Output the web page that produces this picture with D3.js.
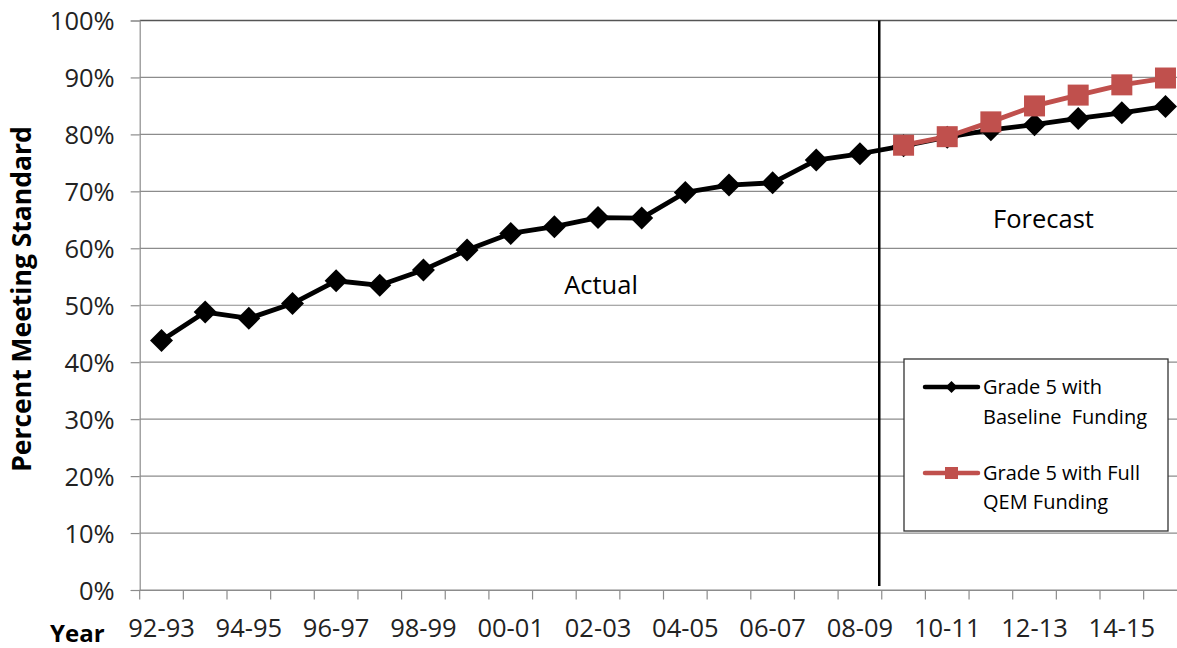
<!DOCTYPE html>
<html>
<head>
<meta charset="utf-8">
<script src="https://cdn.jsdelivr.net/npm/d3@7/dist/d3.min.js"></script>
<style>
  html, body { margin: 0; padding: 0; background: #fff; }
  svg { display: block; }
  text { font-family: "Open Sans", "Noto Sans", sans-serif; }
</style>
</head>
<body>
<svg id="chart" width="1177" height="648"></svg>
<script>
// ---- data ----
const categories = ["92-93","93-94","94-95","95-96","96-97","97-98","98-99","99-00","00-01","01-02",
  "02-03","03-04","04-05","05-06","06-07","07-08","08-09","09-10","10-11","11-12","12-13","13-14","14-15","15-16"];
const tickLabels = ["92-93","94-95","96-97","98-99","00-01","02-03","04-05","06-07","08-09","10-11","12-13","14-15"];
const baselineValues = [43.8, 48.8, 47.7, 50.3, 54.3, 53.5, 56.2, 59.7, 62.6, 63.8, 65.4, 65.3,
  69.8, 71.1, 71.5, 75.5, 76.6, 78.0, 79.5, 80.8, 81.7, 82.8, 83.8, 84.9];
const qemCategories = ["09-10","10-11","11-12","12-13","13-14","14-15","15-16"];
const qemValues = [78.1, 79.6, 82.2, 85.0, 86.9, 88.7, 89.9];
const yTicks = [0,10,20,30,40,50,60,70,80,90,100];
const seriesNames = [["Grade 5 with", "Baseline  Funding"], ["Grade 5 with Full", "QEM Funding"]];
const forecastStart = "09-10";

// ---- layout ----
const W = 1177, H = 648;
const pLeft = 139.7, pRight = 1187.3, pTop = 20.5, pBottom = 590;
const svg = d3.select("#chart");

const x = d3.scaleBand().domain(categories).range([pLeft, pRight]).padding(0);
const y = d3.scaleLinear().domain([0, 100]).range([pBottom, pTop]);
const cx = c => x(c) + x.bandwidth() / 2;

// gridlines
svg.append("g").selectAll("line").data(yTicks).join("line")
  .attr("x1", pLeft).attr("x2", W)
  .attr("y1", d => y(d)).attr("y2", d => y(d))
  .attr("stroke", d => d === 100 ? "#555" : "#8c8c8c")
  .attr("stroke-width", d => d === 100 ? 1.5 : 1.2);

// y axis
const yAxis = d3.axisLeft(y).tickValues(yTicks).tickFormat(d => d + "%").tickSize(9).tickPadding(16);
const gy = svg.append("g").attr("transform", `translate(${pLeft},0)`).call(yAxis);
gy.select(".domain").attr("stroke", "#8c8c8c").attr("stroke-width", 1.2);
gy.selectAll(".tick line").attr("stroke", "#8c8c8c").attr("stroke-width", 1.2);
gy.selectAll(".tick text").attr("font-size", "25.5px").attr("fill", "#222")
  .attr("font-family", "'Open Sans', sans-serif").attr("dy", "0.36em");

// x axis
const xAxis = d3.axisBottom(x).tickValues(tickLabels).tickSize(0).tickPadding(0);
const gx = svg.append("g").attr("transform", `translate(0,${pBottom})`).call(xAxis);
gx.select(".domain").attr("stroke", "#8c8c8c").attr("stroke-width", 1.2);
gx.selectAll(".tick text").attr("font-size", "25.5px").attr("fill", "#222")
  .attr("font-family", "'Open Sans', sans-serif").attr("dy", null).attr("y", 47);
// tick marks at category boundaries
const boundaries = categories.map(c => x(c)).concat([pRight]);
svg.append("g").selectAll("line").data(boundaries).join("line")
  .attr("x1", d => d).attr("x2", d => d)
  .attr("y1", pBottom).attr("y2", pBottom + 9.5)
  .attr("stroke", "#8c8c8c").attr("stroke-width", 1.2);

// axis titles
svg.append("text").attr("x", 50).attr("y", 642).text("Year")
  .attr("font-size", "24px").attr("font-weight", "bold").attr("fill", "#000");
svg.append("text").attr("transform", "translate(31,299) rotate(-90)")
  .attr("text-anchor", "middle").text("Percent Meeting Standard")
  .attr("font-size", "26.5px").attr("font-weight", "bold").attr("fill", "#000");

// vertical divider
svg.append("line")
  .attr("x1", x(forecastStart) - 2.5).attr("x2", x(forecastStart) - 2.5)
  .attr("y1", pTop).attr("y2", 586)
  .attr("stroke", "#000").attr("stroke-width", 2.5);

// annotations
svg.append("text").attr("x", 601).attr("y", 294).attr("text-anchor", "middle")
  .attr("font-size", "25.5px").attr("fill", "#000").text("Actual");
svg.append("text").attr("x", 1043.5).attr("y", 227.5).attr("text-anchor", "middle")
  .attr("font-size", "25.5px").attr("fill", "#000").text("Forecast");

// series
const black = "#000000", red = "#C0504D";
const diamond = r => `M0,${-r}L${r},0L0,${r}L${-r},0Z`;
const line = d3.line().x(d => cx(d[0])).y(d => y(d[1]));

const baseData = categories.map((c, i) => [c, baselineValues[i]]);
const qemData = qemCategories.map((c, i) => [c, qemValues[i]]);

svg.append("path").datum(baseData).attr("d", line)
  .attr("fill", "none").attr("stroke", black).attr("stroke-width", 4.8).attr("stroke-linejoin", "round");
svg.append("g").selectAll("path").data(baseData).join("path")
  .attr("d", diamond(11.5)).attr("transform", d => `translate(${cx(d[0])},${y(d[1])})`)
  .attr("fill", black);

svg.append("path").datum(qemData).attr("d", line)
  .attr("fill", "none").attr("stroke", red).attr("stroke-width", 4.8).attr("stroke-linejoin", "round");
svg.append("g").selectAll("rect").data(qemData).join("rect")
  .attr("x", d => cx(d[0]) - 10.5).attr("y", d => y(d[1]) - 10.5)
  .attr("width", 21).attr("height", 21).attr("fill", red);

// legend
const lg = svg.append("g");
lg.append("rect").attr("x", 904).attr("y", 359).attr("width", 264).attr("height", 172)
  .attr("fill", "#fff").attr("stroke", "#333").attr("stroke-width", 1.3);
const legendRows = [
  {name: seriesNames[0], color: black, shape: "diamond", ly: 387, ty: [394, 423.5]},
  {name: seriesNames[1], color: red, shape: "square", ly: 473, ty: [480, 509]}
];
legendRows.forEach(r => {
  lg.append("line").attr("x1", 925).attr("x2", 978).attr("y1", r.ly).attr("y2", r.ly)
    .attr("stroke", r.color).attr("stroke-width", 4.5).attr("stroke-linecap", "round");
  if (r.shape === "diamond") {
    lg.append("path").attr("d", diamond(6)).attr("transform", `translate(951.5,${r.ly})`).attr("fill", r.color);
  } else {
    lg.append("rect").attr("x", 945).attr("y", r.ly - 6).attr("width", 13).attr("height", 12).attr("fill", r.color);
  }
  r.name.forEach((t, i) => {
    lg.append("text").attr("x", 983).attr("y", r.ty[i]).attr("font-size", "20px")
      .attr("fill", "#000").attr("xml:space", "preserve").style("white-space", "pre").text(t);
  });
});
</script>
</body>
</html>
